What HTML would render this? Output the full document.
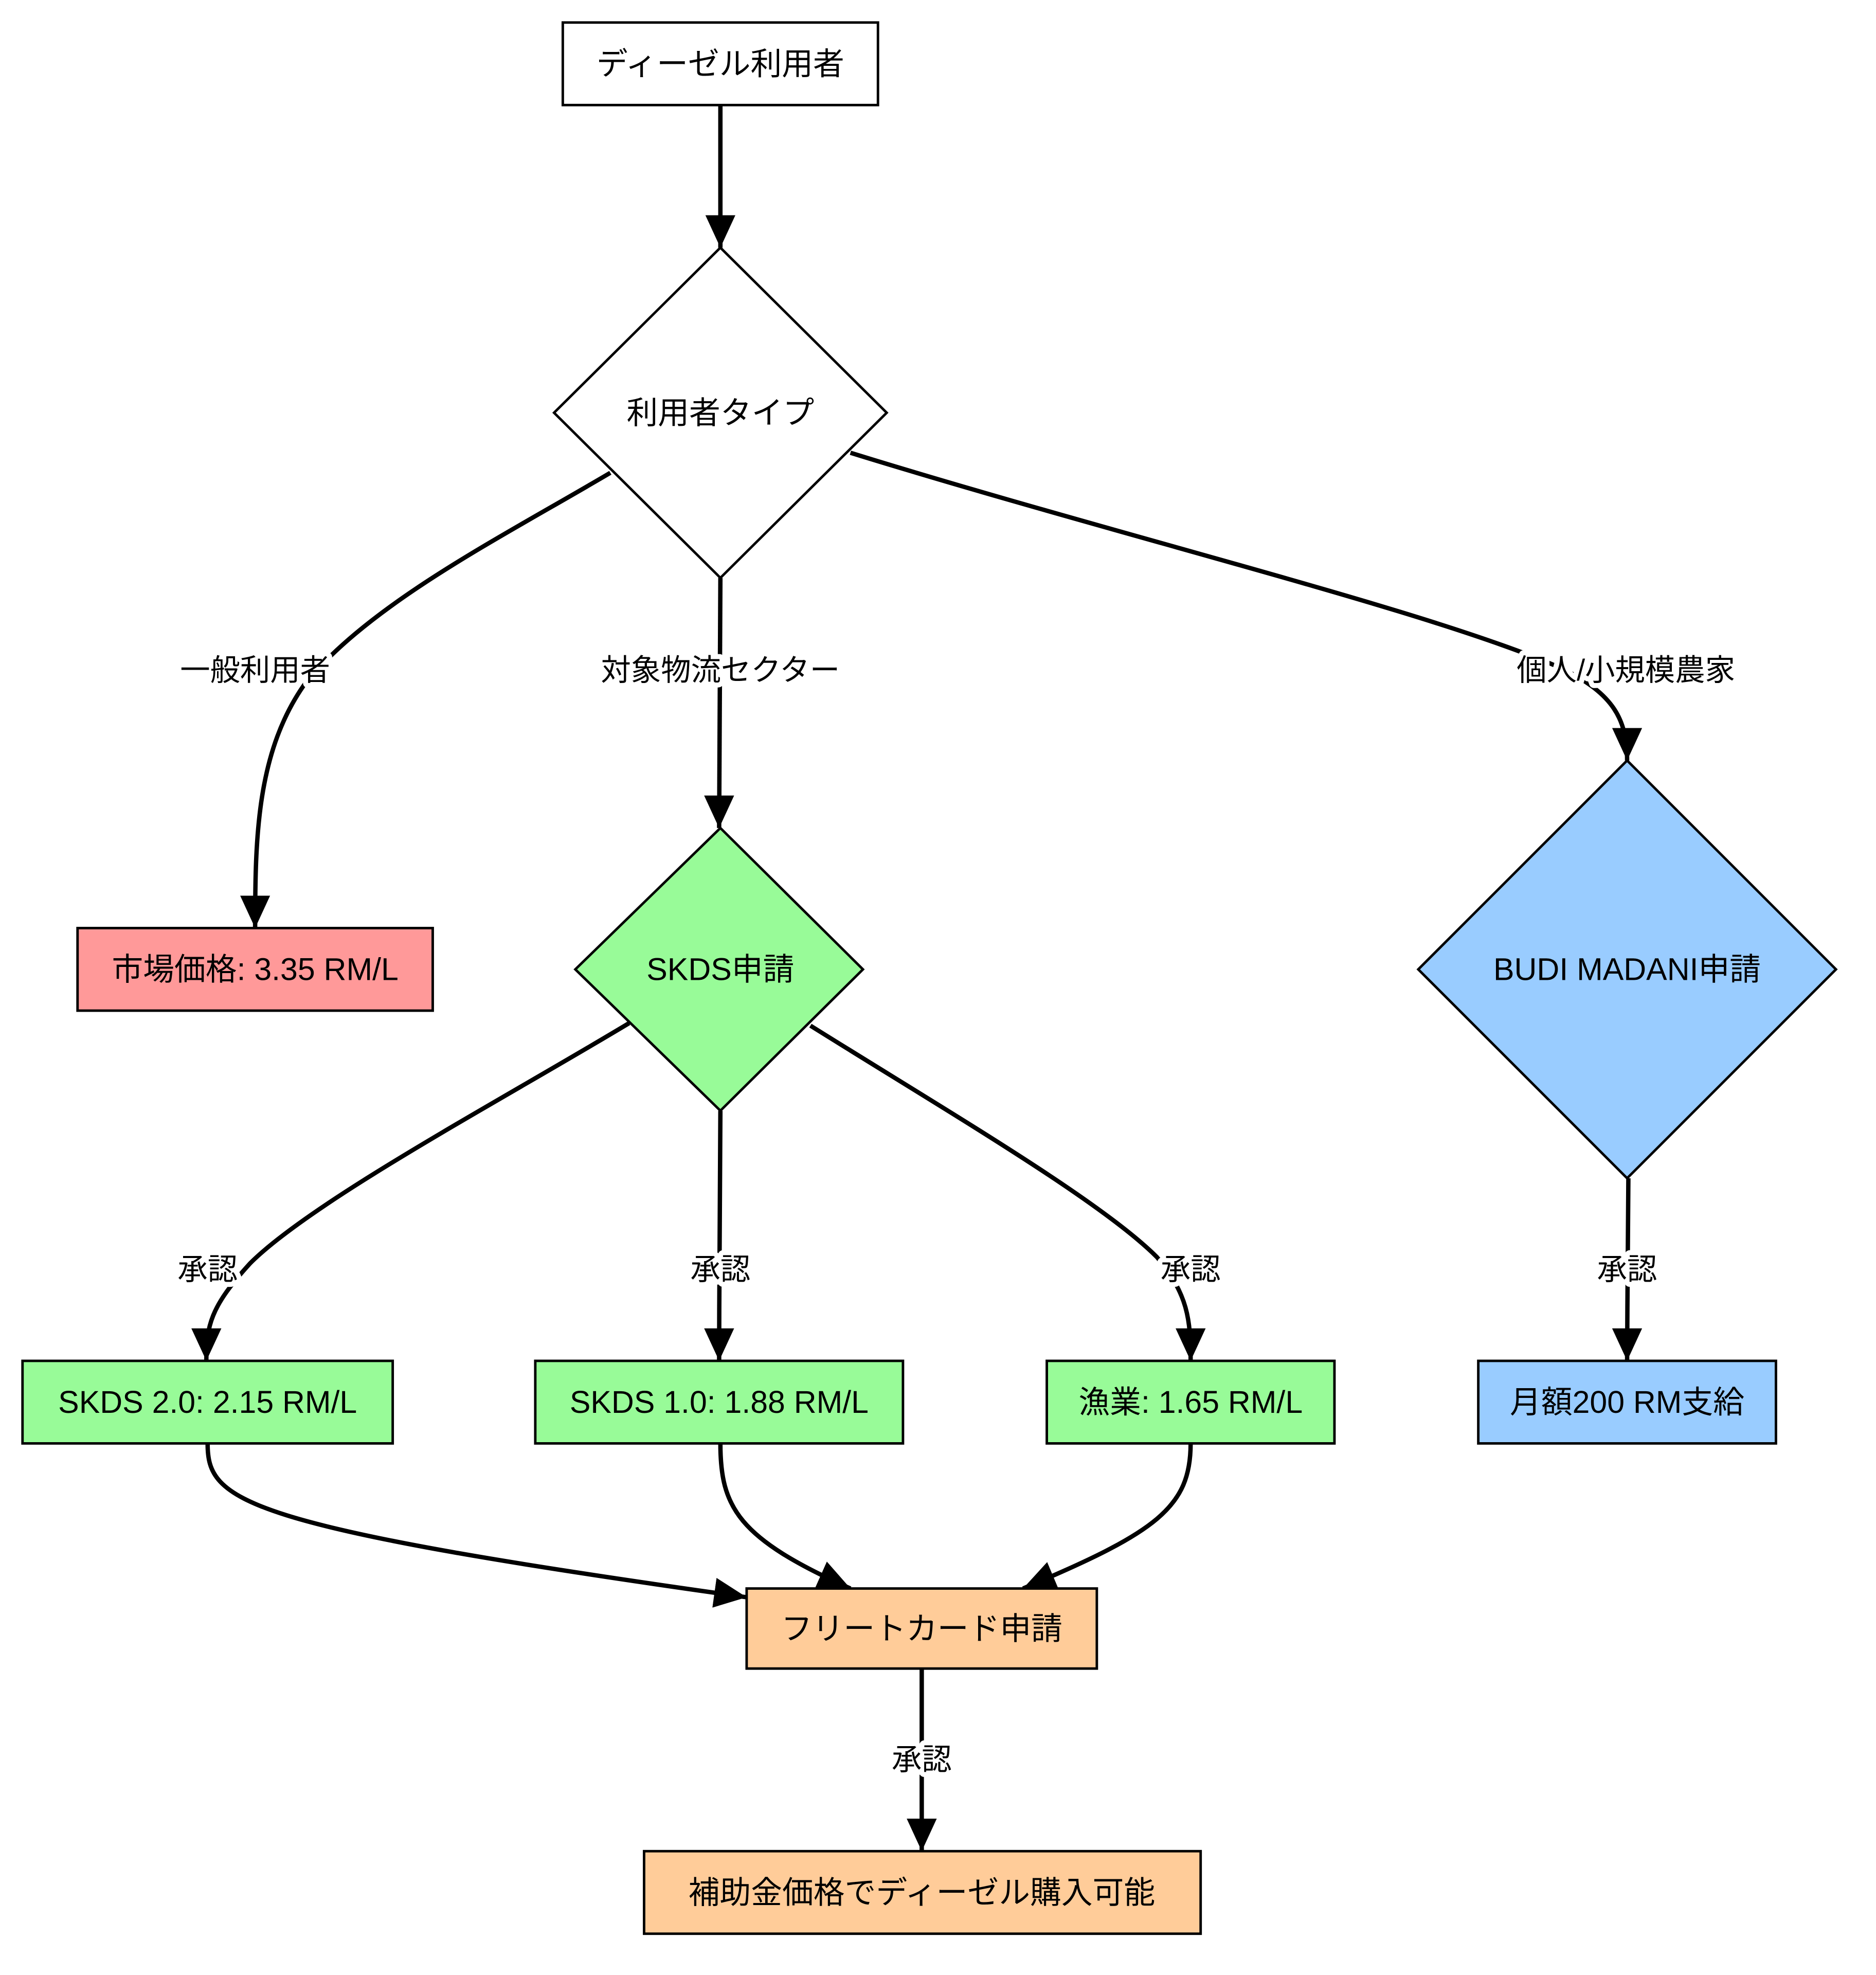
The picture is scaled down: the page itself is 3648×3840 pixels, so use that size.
<!DOCTYPE html>
<html><head><meta charset="utf-8">
<style>
html,body{margin:0;padding:0;background:#fff;}
svg{display:block;}
text{font-family:"Liberation Sans","Noto Sans CJK JP",sans-serif;fill:#000;}
.n{font-size:25px;text-anchor:middle;dominant-baseline:central;}
.l{font-size:24px;text-anchor:middle;dominant-baseline:central;stroke:#fff;stroke-width:8px;paint-order:stroke;stroke-linejoin:round;}
.e{fill:none;stroke:#000;stroke-width:3.5;}
.s{stroke:#000;stroke-width:2;}
</style></head>
<body>
<svg width="3648" height="3840" viewBox="0 0 1500 1579" preserveAspectRatio="none" xmlns="http://www.w3.org/2000/svg">
<defs>
<marker id="a" markerUnits="userSpaceOnUse" markerWidth="30" markerHeight="30" refX="26" refY="12" orient="auto">
<path d="M0,0 L26,12 L0,24 Z" fill="#000"/>
</marker>
</defs>
<rect width="1500" height="1579" fill="#fff"/>

<path class="e" marker-end="url(#a)" d="M576,84 C576,120 576,150 576,198"/>
<path class="e" marker-end="url(#a)" d="M488,378 C400,430 300,480 245,545 C205,600 204,670 204,742"/>
<path class="e" marker-end="url(#a)" d="M576,462 C576,520 575,590 575,662"/>
<path class="e" marker-end="url(#a)" d="M680,362 C900,430 1150,490 1250,535 C1290,555 1301,575 1301,608"/>
<path class="e" marker-end="url(#a)" d="M503,818 C400,880 250,960 200,1010 C168,1045 165,1060 165,1088"/>
<path class="e" marker-end="url(#a)" d="M576,888 C576,950 575,1020 575,1088"/>
<path class="e" marker-end="url(#a)" d="M648,820 C760,890 880,960 925,1005 C950,1035 952,1055 952,1088"/>
<path class="e" marker-end="url(#a)" d="M1302,942 C1302,1000 1301,1040 1301,1088"/>
<path class="e" marker-end="url(#a)" d="M166,1154 C166,1200 190,1220 597,1277"/>
<path class="e" marker-end="url(#a)" d="M576,1154 C576,1205 590,1230 680,1270"/>
<path class="e" marker-end="url(#a)" d="M952,1154 C952,1205 925,1225 818,1270"/>
<path class="e" marker-end="url(#a)" d="M737,1334 C737,1390 737,1430 737,1480"/>

<text class="l" x="204" y="536">一般利用者</text>
<text class="l" x="576" y="536">対象物流セクター</text>
<text class="l" x="1300" y="536">個人/小規模農家</text>
<text class="l" x="166" y="1015">承認</text>
<text class="l" x="576" y="1015">承認</text>
<text class="l" x="952" y="1015">承認</text>
<text class="l" x="1301" y="1015">承認</text>
<text class="l" x="737" y="1407">承認</text>

<rect class="s" x="450" y="18" width="252" height="66" fill="#fff"/>
<text class="n" x="576" y="51">ディーゼル利用者</text>

<polygon class="s" points="576,198 709,330 576,462 443,330" fill="#fff"/>
<text class="n" x="576" y="330">利用者タイプ</text>

<rect class="s" x="62" y="742" width="284" height="66" fill="#ff9999"/>
<text class="n" x="204" y="775">市場価格: 3.35 RM/L</text>

<polygon class="s" points="576,662 690,775 576,888 460,775" fill="#98fb98"/>
<text class="n" x="576" y="775">SKDS申請</text>

<polygon class="s" points="1301,608 1468,775 1301,942 1134,775" fill="#99ccff"/>
<text class="n" x="1301" y="775">BUDI MADANI申請</text>

<rect class="s" x="18" y="1088" width="296" height="66" fill="#98fb98"/>
<text class="n" x="166" y="1121">SKDS 2.0: 2.15 RM/L</text>

<rect class="s" x="428" y="1088" width="294" height="66" fill="#98fb98"/>
<text class="n" x="575" y="1121">SKDS 1.0: 1.88 RM/L</text>

<rect class="s" x="837" y="1088" width="230" height="66" fill="#98fb98"/>
<text class="n" x="952" y="1121">漁業: 1.65 RM/L</text>

<rect class="s" x="1182" y="1088" width="238" height="66" fill="#99ccff"/>
<text class="n" x="1301" y="1121">月額200 RM支給</text>

<rect class="s" x="597" y="1270" width="280" height="64" fill="#ffcc99"/>
<text class="n" x="737" y="1302">フリートカード申請</text>

<rect class="s" x="515" y="1480" width="445" height="66" fill="#ffcc99"/>
<text class="n" x="737" y="1513">補助金価格でディーゼル購入可能</text>
</svg>
</body></html>
